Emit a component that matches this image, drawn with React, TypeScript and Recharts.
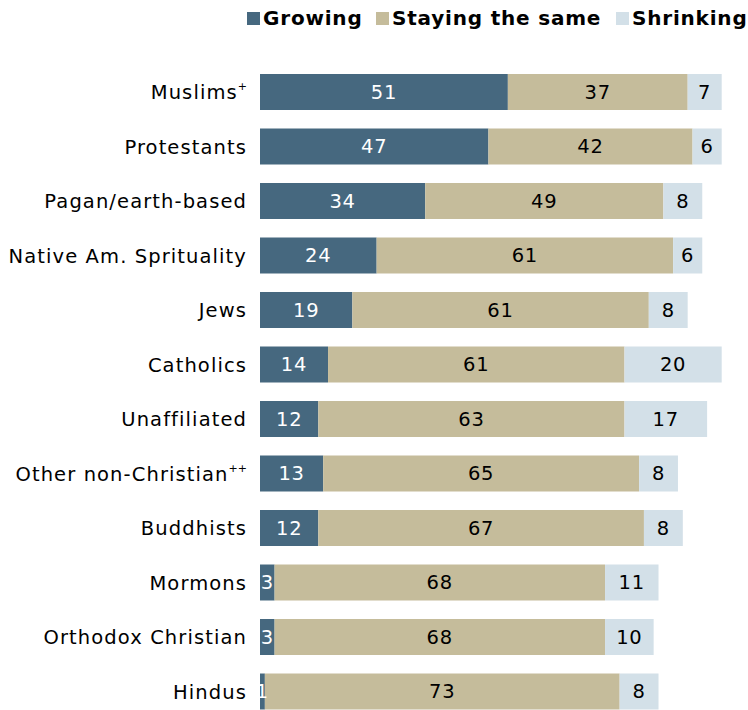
import { BarChart, Bar, XAxis, YAxis, LabelList } from 'recharts';

// Categories (top to bottom) and the three series, in percent
const groups = [
  'Muslims',
  'Protestants',
  'Pagan/earth-based',
  'Native Am. Sprituality',
  'Jews',
  'Catholics',
  'Unaffiliated',
  'Other non-Christian',
  'Buddhists',
  'Mormons',
  'Orthodox Christian',
  'Hindus',
];
const growing = [51, 47, 34, 24, 19, 14, 12, 13, 12, 3, 3, 1];
const staying = [37, 42, 49, 61, 61, 61, 63, 65, 67, 68, 68, 73];
const shrinking = [7, 6, 8, 6, 8, 20, 17, 8, 8, 11, 10, 8];
// superscript marks after some names
const marks = ['+', '', '', '', '', '', '', '++', '', '', '', ''];

const seriesInfo = [
  { key: 'growing', name: 'Growing', color: '#46687f', text: '#ffffff', left: 247 },
  { key: 'staying', name: 'Staying the same', color: '#c5bc9b', text: '#000000', left: 376 },
  { key: 'shrinking', name: 'Shrinking', color: '#d3e0e8', text: '#000000', left: 616 },
];

const data = groups.map((g, i) => ({
  name: g,
  growing: growing[i],
  staying: staying[i],
  shrinking: shrinking[i],
}));

const FONT = 'Verdana, "DejaVu Sans", sans-serif';

function GroupTick(props: any) {
  const { x, y, payload } = props;
  const mark = marks[payload.index] || '';
  return (
    <text
      x={x}
      y={y}
      dy={7}
      textAnchor="end"
      fontSize={19.5}
      letterSpacing={1.1}
      fontFamily={FONT}
      fill="#000"
    >
      {payload.value}
      {mark && (
        <tspan fontSize={11} dy={-9} letterSpacing={0}>
          {mark}
        </tspan>
      )}
    </text>
  );
}

// legend drawn above the chart, one swatch + bold label per series
function TopLegend() {
  return (
    <div style={{ position: 'absolute', top: 0, left: 0, width: 748, height: 40 }}>
      {seriesInfo.map((s) => (
        <div
          key={s.key}
          style={{
            position: 'absolute',
            left: s.left,
            top: 6,
            display: 'flex',
            alignItems: 'center',
            fontFamily: FONT,
            fontWeight: 'bold',
            fontSize: 20,
            letterSpacing: 0.8,
            whiteSpace: 'nowrap',
          }}
        >
          <span style={{ width: 13, height: 13, background: s.color, display: 'inline-block', marginRight: 3 }} />
          <span>{s.name}</span>
        </div>
      ))}
    </div>
  );
}

export default function App() {
  return (
    <div style={{ width: 748, height: 710, overflow: 'hidden', position: 'relative', background: '#fff' }}>
      <style>{'body{margin:0}'}</style>
      <TopLegend />
      <BarChart
        width={748}
        height={722}
        data={data}
        layout="vertical"
        margin={{ top: 65, right: 2, bottom: 3, left: 0 }}
        barSize={36}
      >
        <XAxis type="number" domain={[0, 100]} hide />
        <YAxis
          type="category"
          dataKey="name"
          width={260}
          axisLine={false}
          tickLine={false}
          tickMargin={7}
          interval={0}
          tick={<GroupTick />}
        />
        {seriesInfo.map((s) => (
          <Bar key={s.key} dataKey={s.key} name={s.name} stackId="a" fill={s.color} isAnimationActive={false}>
            <LabelList
              dataKey={s.key}
              position="center"
              fill={s.text}
              fontSize={19.5}
              letterSpacing={0.8}
              fontFamily={FONT}
            />
          </Bar>
        ))}
      </BarChart>
    </div>
  );
}
